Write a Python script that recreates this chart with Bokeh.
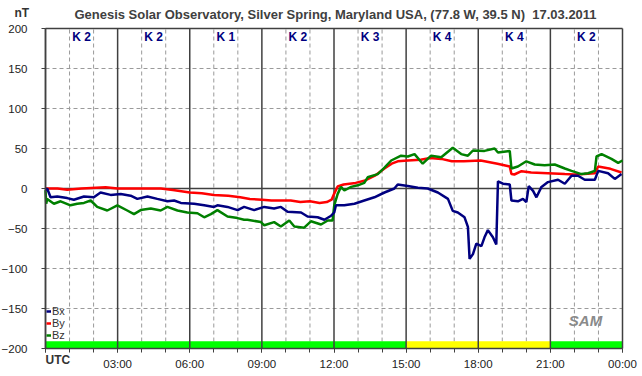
from bokeh.plotting import figure
from bokeh.models import Range1d, FixedTicker, Label, Legend, LegendItem
from bokeh.core.properties import value
from bokeh.embed import file_html
from bokeh.resources import INLINE

# ---------------- data ----------------
title_text = "Genesis Solar Observatory, Silver Spring, Maryland USA, (77.8 W, 39.5 N)\u00a0\u00a017.03.2011"
unit_text = "nT"
time_text = "UTC"
x_ticks = [0, 3, 6, 9, 12, 15, 18, 21, 24]
x_tick_labels = ["", "03:00", "06:00", "09:00", "12:00", "15:00", "18:00", "21:00", "00:00"]
x_minor = list(range(0, 25))
y_ticks = [-200, -150, -100, -50, 0, 50, 100, 150, 200]

k_start = [0, 3, 6, 9, 12, 15, 18, 21]
k_index = [2, 2, 1, 2, 3, 4, 4, 2]

bx_t = [0.0, 0.07, 0.21, 0.49, 0.90, 1.18, 1.60, 2.01, 2.29, 2.71, 3.13, 3.54, 3.82, 4.24, 4.65,
        5.07, 5.35, 5.63, 6.18, 6.60, 7.01, 7.15, 7.57, 7.99, 8.26, 8.68, 9.10, 9.51, 9.79, 10.07,
        10.63, 10.90, 11.32, 11.60, 11.88, 12.01, 12.08, 12.43, 12.85, 13.26, 13.68, 14.10, 14.51, 14.65, 15.07,
        15.49, 15.90, 16.32, 16.74, 16.94, 17.15, 17.43, 17.57, 17.64, 17.78, 17.92, 18.13, 18.26, 18.40, 18.61,
        18.75, 18.82, 19.03, 19.31, 19.38, 19.65, 19.86, 20.00, 20.10, 20.28, 20.42, 20.63, 20.90, 21.32, 21.60,
        21.88, 22.15, 22.43, 22.85, 22.99, 23.40, 23.68, 23.96]
bx_v = [-2, 0, -11, -10, -12, -14, -10, -11, -5, -8, -7, -9, -13, -10, -13,
        -16, -15, -18, -19, -21, -23, -21, -23, -27, -23, -27, -23, -25, -23, -29,
        -30, -35, -36, -39, -34, -30, -21, -21, -19, -15, -11, -5, 0, 5, 3,
        1, 0, -5, -13, -28, -30, -36, -48, -88, -82, -69, -72, -61, -52, -61,
        -70, 9, 6, 5, -15, -16, -13, -17, 3, -3, -11, 2, 8, 11, 6,
        16, 16, 11, 11, 22, 19, 12, 18]

by_t = [0.0, 0.5, 0.9, 1.5, 2.5, 3.0, 4.0, 4.8, 5.3, 6.0, 6.5, 7.0, 7.6, 8.1, 8.5,
        9.0, 9.4, 10.2, 10.6, 11.0, 11.4, 11.7, 11.9, 12.0, 12.15, 12.4, 12.9, 13.3, 13.7, 14.1,
        14.4, 14.65, 15.07, 15.6, 16.0, 16.46, 16.9, 17.4, 18.1, 18.8, 19.31, 19.38, 19.5, 19.8, 20.2,
        20.9, 21.6, 22.0, 22.4, 22.85, 22.99, 23.5, 23.96]
by_v = [0, 0, -1.5, 0, 1.5, 0, 0, 0, -2, -5, -6, -8, -9, -11, -13,
        -14, -15, -15, -17, -16, -18, -17, -14, -7, 2.5, 5, 7, 10, 16, 25,
        31, 34, 35, 36, 38, 37, 34, 34, 35, 31, 27.5, 18, 17.5, 21.7, 20,
        19, 18, 17.5, 18, 19, 27.5, 24.6, 20]

bz_t = [0.0, 0.03, 0.07, 0.35, 0.63, 1.04, 1.32, 1.60, 1.88, 2.15, 2.57, 2.99, 3.40, 3.68, 3.96,
        4.38, 4.79, 5.07, 5.49, 5.90, 6.32, 6.60, 6.88, 7.15, 7.57, 7.99, 8.26, 8.40, 8.96, 9.10,
        9.51, 9.79, 10.14, 10.35, 10.76, 11.04, 11.46, 11.74, 11.94, 12.01, 12.15, 12.29, 12.43, 12.71, 12.99,
        13.26, 13.40, 13.82, 14.10, 14.38, 14.79, 15.07, 15.35, 15.69, 16.04, 16.46, 16.94, 17.29, 17.57, 17.78,
        18.26, 18.68, 18.82, 19.31, 19.38, 19.65, 20.00, 20.35, 20.76, 21.18, 21.60, 21.88, 22.29, 22.57, 22.85,
        22.92, 23.13, 23.54, 23.82, 24.0]
bz_v = [-2, -19, -13, -19, -16, -21, -19, -18, -15, -23, -27.5, -21, -27.5, -32, -27,
        -25, -27.5, -23, -27.5, -30, -31, -36, -32, -27, -35, -37, -39, -39, -42, -46,
        -42, -47.5, -40, -47.5, -49, -41, -45, -40, -40, -21, -7, 2, -2.5, 2, 4,
        7, 14, 18, 26, 35, 41, 40, 43, 31, 41, 39, 51, 43, 41, 47.5,
        47, 50, 45, 47, 25, 27.5, 34, 30, 29, 30, 25, 22, 18, 19, 22,
        40, 43, 37, 32, 35]

# ---------------- layout constants ----------------
FONT = "Liberation Sans"
DARK = "#404040"
GRIDC = "#9a9a9a"
W, H = 642, 376
PLOT_L, PLOT_R, PLOT_T, PLOT_B = 45, 622, 28, 348        # plot box in canvas pixels
T0, T1 = x_ticks[0], x_ticks[-1]
V0, V1 = y_ticks[0], y_ticks[-1]
kx = (PLOT_R - PLOT_L) / (T1 - T0)
ky = (PLOT_B - PLOT_T) / (V1 - V0)

p = figure(width=W, height=H, output_backend="svg", toolbar_location=None,
           x_range=Range1d(T0 - PLOT_L / kx, T1 + (W - PLOT_R) / kx),
           y_range=Range1d(V0 - (H - PLOT_B) / ky, V1 + PLOT_T / ky),
           min_border=0, background_fill_color="white", border_fill_color="white")
p.title = None
p.outline_line_color = None
p.grid.visible = False

# axes fixed to the plot box
xa = p.xaxis[0]
xa.fixed_location = V0
xa.bounds = (T0, T1)
xa.ticker = FixedTicker(ticks=x_ticks, minor_ticks=x_minor)
xa.major_label_overrides = {t: l for t, l in zip(x_ticks, x_tick_labels)}
xa.major_tick_out = 4
xa.major_tick_in = 0
xa.minor_tick_out = 4
xa.minor_tick_in = 0
xa.axis_line_color = DARK
xa.axis_line_width = 1.5
xa.major_tick_line_color = DARK
xa.minor_tick_line_color = DARK
xa.major_label_text_font = FONT
xa.major_label_text_font_size = "11.5px"
xa.major_label_text_color = "#222222"
xa.major_label_standoff = 5

ya = p.yaxis[0]
ya.fixed_location = T0
ya.bounds = (V0, V1)
ya.ticker = FixedTicker(ticks=y_ticks, minor_ticks=[])
ya.major_tick_out = 4
ya.major_tick_in = 0
ya.axis_line_color = DARK
ya.axis_line_width = 1.5
ya.major_tick_line_color = DARK
ya.major_label_text_font = FONT
ya.major_label_text_font_size = "11.5px"
ya.major_label_text_color = "#222222"
ya.major_label_standoff = 14

# dashed grid lines (hourly and every 50 nT)
vd = [h for h in x_minor if h not in x_ticks]
hd = [v for v in y_ticks if v not in (0, V0, V1)]
p.segment(x0=vd, x1=vd, y0=[V0] * len(vd), y1=[V1] * len(vd),
          line_color=GRIDC, line_dash="4 3", line_width=1)
p.segment(x0=[T0] * len(hd), x1=[T1] * len(hd), y0=hd, y1=hd,
          line_color=GRIDC, line_dash="4 3", line_width=1)

# K-index status bar at the bottom
bar_color = ["#00ff00" if k < 4 else "#ffff00" for k in k_index]
p.quad(left=k_start, right=[s + 3 for s in k_start], bottom=V0, top=V0 + 9,
       fill_color=bar_color, line_color=None)

# solid grid lines (every 3 h, zero line, top border)
hs = [0, V1]
p.segment(x0=x_ticks, x1=x_ticks, y0=[V0] * len(x_ticks), y1=[V1] * len(x_ticks),
          line_color=DARK, line_width=1.5)
p.segment(x0=[T0] * len(hs), x1=[T1] * len(hs), y0=hs, y1=hs,
          line_color=DARK, line_width=1.5)

# K labels
p.text(x=[s + 1.5 for s in k_start], y=[V1 - 11] * len(k_start), text=[f"K {k}" for k in k_index],
       text_font=value(FONT), text_font_style="bold", text_font_size="12px",
       text_color="#000080", text_align="center", text_baseline="middle")

# series
r_by = p.line(by_t, by_v, line_color="#ff0000", line_width=2.5)
r_bz = p.line(bz_t, bz_v, line_color="#008000", line_width=2.5)
r_bx = p.line(bx_t, bx_v, line_color="#000080", line_width=2.5)

legend = Legend(items=[LegendItem(label="Bx", renderers=[r_bx]),
                       LegendItem(label="By", renderers=[r_by]),
                       LegendItem(label="Bz", renderers=[r_bz])],
                location=(PLOT_L + 1, H - PLOT_B + 7), orientation="vertical",
                glyph_width=5, glyph_height=8, label_height=8, label_standoff=1,
                spacing=-6, padding=0, margin=0,
                label_text_font=FONT, label_text_font_size="11px", label_text_color="#333333",
                label_text_line_height=0.9,
                border_line_color=None, background_fill_alpha=0)
p.add_layout(legend, "center")

# texts (screen units: from the bottom-left of the canvas-sized frame)
p.add_layout(Label(x=335, y=H - 14, x_units="screen", y_units="screen", text=title_text,
                   text_font=FONT, text_font_style="bold", text_font_size="13px",
                   text_color="#404040", text_align="center", text_baseline="middle"))
p.add_layout(Label(x=14, y=H - 12, x_units="screen", y_units="screen", text=unit_text,
                   text_font=FONT, text_font_style="bold", text_font_size="12px",
                   text_color="#333333", text_align="left", text_baseline="middle"))
p.add_layout(Label(x=PLOT_L, y=H - 359, x_units="screen", y_units="screen", text=time_text,
                   text_font=FONT, text_font_style="bold", text_font_size="12px",
                   text_color="#333333", text_align="left", text_baseline="middle"))
p.add_layout(Label(x=585, y=H - 320, x_units="screen", y_units="screen", text="SAM",
                   text_font=FONT, text_font_style="bold italic", text_font_size="15px",
                   text_color="#8a8a8a", text_align="center", text_baseline="middle"))

open("out.html", "w").write(file_html(p, INLINE))
